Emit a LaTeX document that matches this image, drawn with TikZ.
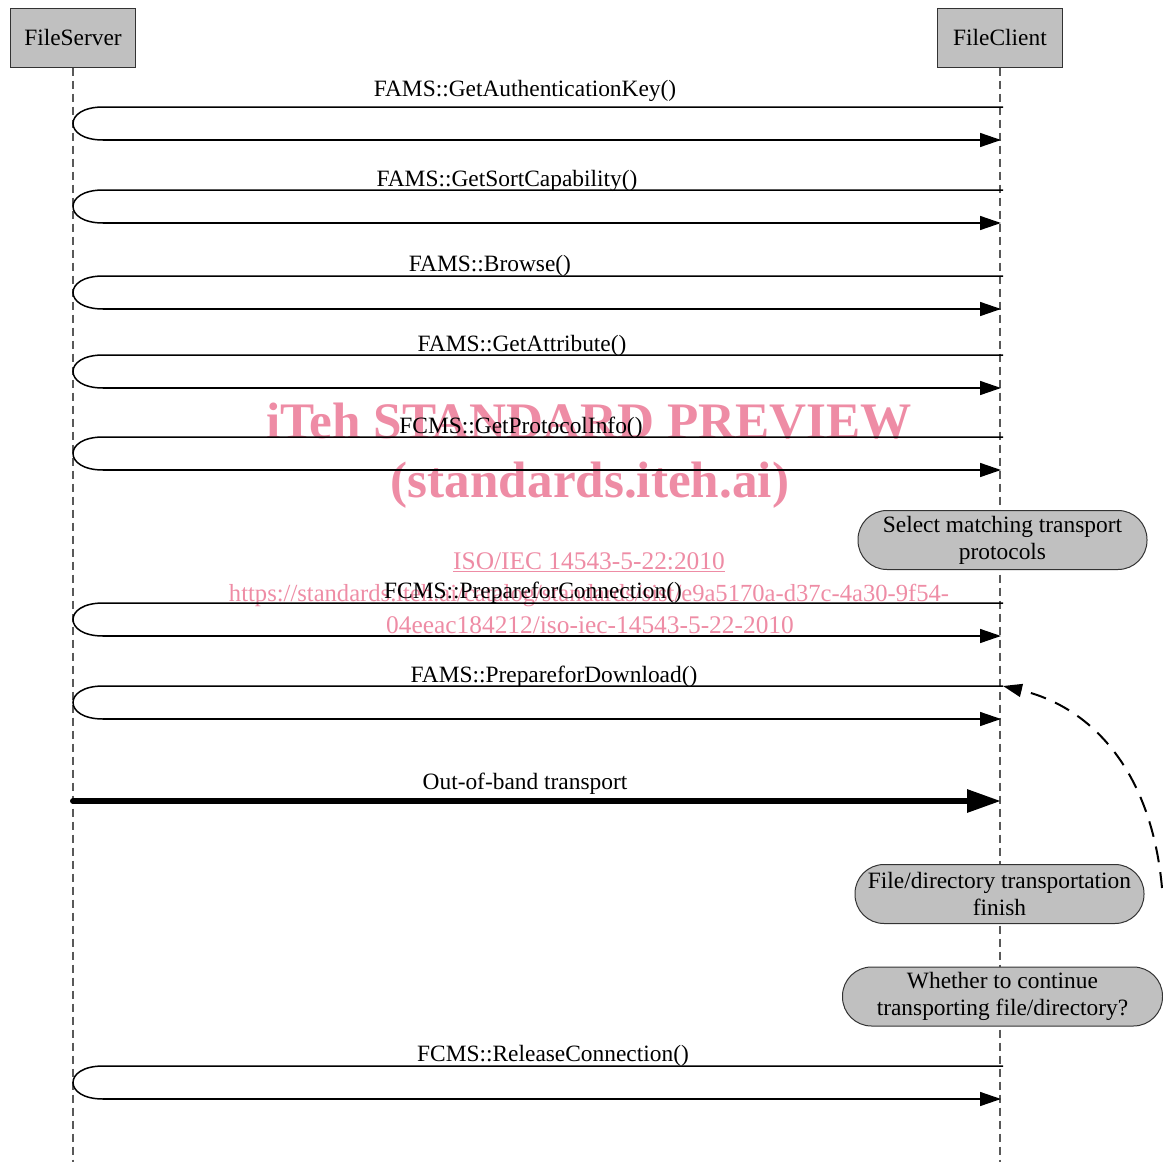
\documentclass[tikz,border=0pt]{standalone}
\usepackage{fontspec}
\setmainfont{Liberation Serif}
\usetikzlibrary{arrows.meta}
\definecolor{boxgray}{RGB}{192,192,192}
\definecolor{wmpink}{RGB}{238,140,165}
\newcommand\MsgLoop[5]{%
  \coordinate (#1a) at (1003,#2);
  \coordinate (#1b) at (103,#2);
  \coordinate (#1c) at (103,#2+33);
  \coordinate (#1d) at (1001,#2+33);
  \node[lbl] (#1l) at (#4,#5) {#3};
  \draw[loopline] (#1a) -- (#1b) .. controls +(-40,0) and +(-40,0) .. (#1c);
  \draw[msg] (#1c) -- (#1d);
}
\begin{document}
\begin{tikzpicture}[x=1pt,y=-1pt,
  txt/.style={font=\fontsize{23.4}{27}\selectfont, inner sep=0pt},
  actor/.style={txt, draw=black!80, fill=boxgray, minimum width=125pt, minimum height=59pt, line width=1pt},
  note/.style={txt, draw=black!80, fill=boxgray, rounded corners=29pt, minimum height=59pt, align=center, line width=1pt},
  life/.style={dash pattern=on 8pt off 5pt, draw=black!65, line width=1.2pt},
  loopline/.style={line width=1.5pt},
  msg/.style={line width=1.5pt, -{Triangle[length=21pt,width=14pt]}},
  lbl/.style={txt, anchor=base},
  wm/.style={text=wmpink, inner sep=0pt, anchor=base}
]
\useasboundingbox (0,0) rectangle (1163,1162);

% watermark
\node[wm, font=\bfseries\fontsize{51.2}{55}\selectfont] (wm1) at (589,438) {iTeh STANDARD PREVIEW};
\node[wm, font=\bfseries\fontsize{51.2}{55}\selectfont] (wm2) at (590,497) {(standards.iteh.ai)};
\node[wm, font=\fontsize{25.4}{28}\selectfont] (wm3) at (589,569) {\underline{ISO/IEC 14543-5-22:2010}};
\node[wm, font=\fontsize{24.6}{28}\selectfont] (wm4) at (589,601) {https://standards.iteh.ai/catalog/standards/sist/e9a5170a-d37c-4a30-9f54-};
\node[wm, font=\fontsize{25.4}{28}\selectfont] (wm5) at (590,633) {04eeac184212/iso-iec-14543-5-22-2010};

% actors and lifelines
\node[actor] (server) at (73,37.5) {FileServer};
\node[actor] (client) at (1000,37.5) {FileClient};
\coordinate (sEnd) at (73,1162);
\coordinate (cEnd) at (1000,1162);
\draw[life] (server.south) -- (sEnd);
\draw[life] (client.south) -- (cEnd);

% messages
\MsgLoop{m1}{107}{FAMS::GetAuthenticationKey()}{525}{96}
\MsgLoop{m2}{190}{FAMS::GetSortCapability()}{507}{186}
\MsgLoop{m3}{276}{FAMS::Browse()}{490}{271}
\MsgLoop{m4}{355}{FAMS::GetAttribute()}{522}{351}
\MsgLoop{m5}{437}{FCMS::GetProtocolInfo()}{521}{433}
\MsgLoop{m6}{603}{FCMS::PrepareforConnection()}{533}{598}
\MsgLoop{m7}{686}{FAMS::PrepareforDownload()}{554}{682}
\MsgLoop{m9}{1066}{FCMS::ReleaseConnection()}{553}{1061}

% out-of-band transport
\coordinate (ob1) at (73,801);
\coordinate (ob2) at (1001,801);
\node[lbl] (obl) at (525,789) {Out-of-band transport};
\draw[line width=6pt, line cap=round, -{Triangle[length=34pt,width=22pt]}] (ob1) -- (ob2);

% notes
\node[note, minimum width=289pt] (n1) at (1002.5,540) {Select matching transport\\protocols};
\node[note, minimum width=289pt] (n2) at (999.5,894) {File/directory transportation\\finish};
\node[note, minimum width=320pt] (n3) at (1002.5,996.5) {Whether to continue\\transporting file/directory?};

% dashed feedback arrow
\coordinate (dstart) at (1162,888);
\draw[line width=2pt, dash pattern=on 16pt off 10pt, -{Triangle[length=19pt,width=13pt]}]
  (dstart) .. controls (1152,775) and (1095,708) .. (m7a);
\end{tikzpicture}
\end{document}
